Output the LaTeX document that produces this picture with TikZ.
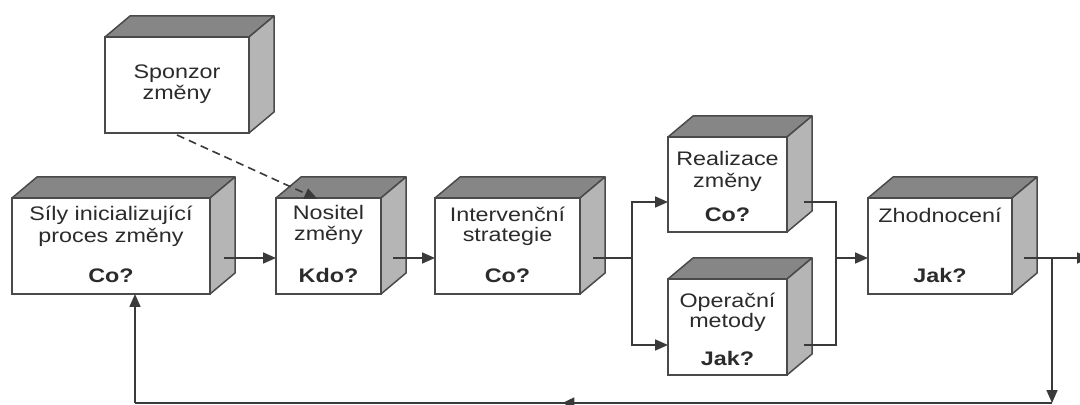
\documentclass[tikz,border=0pt]{standalone}
\usepackage{fontspec}
\setmainfont{Liberation Sans}[FakeStretch=1.19]
\usetikzlibrary{calc,arrows.meta,decorations.markings}

\definecolor{edgec}{HTML}{4A4A4A}
\definecolor{topc}{HTML}{868686}
\definecolor{sidec}{HTML}{B5B5B5}
\definecolor{linec}{HTML}{3A3A3A}
\definecolor{txtc}{HTML}{2B2B2B}

\tikzset{
  front/.style={draw=edgec, line width=0.75pt, fill=white, inner sep=0pt, outer sep=0pt, anchor=north west},
  topf/.style={fill=topc, draw=edgec, line width=0.75pt, line join=round},
  sidef/.style={fill=sidec, draw=edgec, line width=0.75pt, line join=round},
  lbl/.style={anchor=base, inner sep=0pt, text=txtc, font=\fontsize{9.8pt}{11pt}\selectfont},
  qlbl/.style={anchor=base, inner sep=0pt, text=txtc, font=\fontsize{9.8pt}{11pt}\selectfont\bfseries},
  line/.style={draw=linec, line width=0.8pt},
  conn/.style={line, -{Triangle[length=6.5pt,width=5.5pt]}},
  dashl/.style={conn, dash pattern=on 4pt off 2.5pt},
}

\newcommand\mycube[5]{%
  \node[front, minimum width={#4*0.5pt}, minimum height={#5*0.5pt}] (#1) at (#2,#3) {};
  \path[topf] (#1.north west) -- ++(25,-21) -- ($(#1.north east)+(25,-21)$) -- (#1.north east) -- cycle;
  \path[sidef] (#1.north east) -- ++(25,-21) -- ($(#1.south east)+(25,-21)$) -- (#1.south east) -- cycle;
}

\begin{document}
\begin{tikzpicture}[x=0.5pt,y=-0.5pt]
\clip (0,0) rectangle (1080,405);
\fill[white] (0,0) rectangle (1080,405);

% boxes
\mycube{sponzor}{105}{37}{144}{96}
\mycube{sily}{12}{198}{198}{96}
\mycube{nositel}{276}{198}{105}{96}
\mycube{interv}{435}{198}{145}{96}
\mycube{realiz}{668}{137}{119}{95}
\mycube{operac}{668}{279}{119}{96}
\mycube{zhodn}{868}{198}{144}{96}

% labels
\node[lbl] (sponzorA) at ($(sponzor.north)+(0,42)$) {Sponzor};
\node[lbl] (sponzorB) at ($(sponzor.north)+(0,63)$) {změny};

\node[lbl] (silyA) at ($(sily.north)+(0,23)$) {Síly inicializující};
\node[lbl] (silyB) at ($(sily.north)+(0,45)$) {proces změny};
\node[qlbl] (silyQ) at ($(sily.south)+(0,-11)$) {Co?};

\node[lbl] (nositelA) at ($(nositel.north)+(0,22)$) {Nositel};
\node[lbl] (nositelB) at ($(nositel.north)+(0,43)$) {změny};
\node[qlbl] (nositelQ) at ($(nositel.south)+(0,-11)$) {Kdo?};

\node[lbl] (intervA) at ($(interv.north)+(0,24)$) {Intervenční};
\node[lbl] (intervB) at ($(interv.north)+(0,44)$) {strategie};
\node[qlbl] (intervQ) at ($(interv.south)+(0,-11)$) {Co?};

\node[lbl] (realizA) at ($(realiz.north)+(0,29)$) {Realizace};
\node[lbl] (realizB) at ($(realiz.north)+(0,51)$) {změny};
\node[qlbl] (realizQ) at ($(realiz.south)+(0,-10)$) {Co?};

\node[lbl] (operacA) at ($(operac.north)+(0,28)$) {Operační};
\node[lbl] (operacB) at ($(operac.north)+(0,49)$) {metody};
\node[qlbl] (operacQ) at ($(operac.south)+(0,-10)$) {Jak?};

\node[lbl] (zhodnA) at ($(zhodn.north)+(0,25)$) {Zhodnocení};
\node[qlbl] (zhodnQ) at ($(zhodn.south)+(0,-11)$) {Jak?};

% connectors
\coordinate (sp) at (632,258);
\coordinate (jn) at (836,258);
\coordinate (br) at (1052,258);
\coordinate (rt) at (1090,258);
\coordinate (bc) at (1052,403);
\coordinate (bl) at (135,403);

\draw[conn] ($(sily.south east)+(14,-36)$) -- ($(nositel.south west)+(0,-36)$);
\draw[conn] ($(nositel.south east)+(12,-36)$) -- ($(interv.south west)+(0,-36)$);
\draw[line] ($(interv.south east)+(13,-36)$) -- (sp);
\draw[conn] (sp) |- ($(realiz.south west)+(0,-30)$);
\draw[conn] (sp) |- ($(operac.south west)+(0,-30)$);
\draw[line] ($(realiz.south east)+(17,-30)$) -| (jn);
\draw[line] ($(operac.south east)+(17,-30)$) -| (jn);
\draw[conn] (jn) -- ($(zhodn.south west)+(0,-36)$);
\draw[conn] ($(zhodn.south east)+(12,-36)$) -- (rt);
\draw[conn] (br) -- (bc);
\draw[line, postaction=decorate, decoration={markings, mark=at position 0.534 with {\arrow{Triangle[length=6pt,width=5.5pt]}}}] (bc) -- (bl);
\draw[conn] (bl) -- (bl |- sily.south);

\draw[dashl] ($(sponzor.south)+(0,2)$) -- ($(nositel.north)+(-11,1)$);
\end{tikzpicture}
\end{document}
